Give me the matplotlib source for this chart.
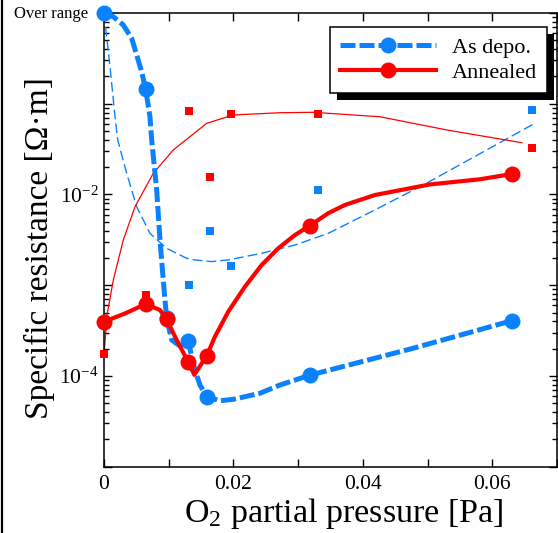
import matplotlib
matplotlib.use('Agg')
import matplotlib.pyplot as plt
from matplotlib.lines import Line2D
from matplotlib.patches import Rectangle
from matplotlib.transforms import IdentityTransform
from matplotlib.ticker import MultipleLocator, FuncFormatter, LogLocator, NullFormatter, FixedLocator
import numpy as np

plt.rcParams['font.family'] = ['Liberation Serif', 'DejaVu Serif']
plt.rcParams['mathtext.fontset'] = 'custom'
plt.rcParams['mathtext.rm'] = 'Liberation Serif'
plt.rcParams['mathtext.it'] = 'Liberation Serif:italic'

BLUE = '#0a82ff'
RED = '#ff0000'

# measured resistance vs O2 partial pressure (Pa, ohm*m)
depo_p = [0.0, 0.0065, 0.0097, 0.0130, 0.0159, 0.0318, 0.0630]
depo_r = [1.0, 0.144, 4.3e-4, 2.4e-4, 5.9e-5, 1.02e-4, 4.06e-4]
anneal_p = [0.0, 0.0065, 0.0097, 0.0130, 0.0159, 0.0318, 0.0630]
anneal_r = [3.96e-4, 6.2e-4, 4.2e-4, 1.42e-4, 1.66e-4, 4.5e-3, 1.68e-2]

# second sample set (small squares)
sq_red_p = [0.0, 0.0065, 0.0132, 0.0164, 0.0197, 0.0330, 0.0661]
sq_red_r = [1.75e-4, 7.8e-4, 0.0832, 0.0156, 0.0765, 0.0765, 0.0323]
sq_blue_p = [0.0132, 0.0164, 0.0196, 0.0330, 0.0661]
sq_blue_r = [1.0e-3, 3.96e-3, 1.64e-3, 0.0111, 0.0847]

# smoothed guide curves through the circles
depo_curve_p = [0.0, 0.00144, 0.00298, 0.00428, 0.00505, 0.00582, 0.00644, 0.0071, 0.00737,
                0.00814, 0.00865, 0.00916, 0.00942, 0.00968, 0.01046, 0.01174, 0.01302,
                0.01405, 0.01483, 0.01586, 0.01792, 0.01997, 0.02409, 0.02718, 0.03181,
                0.04777, 0.0630]
depo_curve_r = [1.0, 0.910, 0.738, 0.526, 0.344, 0.225, 0.144, 0.0719, 0.0398,
                0.0112, 3.15e-3, 1.14e-3, 6.87e-4, 4.32e-4, 2.49e-4, 2.14e-4, 2.39e-4,
                1.16e-4, 7.94e-5, 5.9e-5, 5.33e-5, 5.53e-5, 6.44e-5, 7.94e-5, 1.02e-4,
                2.02e-4, 4.06e-4]
anneal_curve_p = [0.0, 0.00324, 0.00644, 0.00865, 0.00968, 0.01123, 0.01302, 0.01395,
                  0.01586, 0.01714, 0.0192, 0.02178, 0.02436, 0.02692, 0.0295, 0.03181,
                  0.03464, 0.03722, 0.04185, 0.05035, 0.05807, 0.0630]
anneal_curve_r = [3.96e-4, 4.88e-4, 6.21e-4, 5.33e-4, 4.21e-4, 2.49e-4, 1.42e-4, 1.03e-4,
                  1.66e-4, 2.71e-4, 5.11e-4, 9.64e-4, 1.67e-3, 2.55e-3, 3.57e-3, 4.53e-3,
                  6.21e-3, 7.66e-3, 9.86e-3, 1.29e-2, 1.47e-2, 1.68e-2]

# fitted trends for the square samples
fit_blue_p = [0.0, 0.00093, 0.0017, 0.00212, 0.00351, 0.00505, 0.0071, 0.00968, 0.01277,
              0.01405, 0.01663, 0.0192, 0.02436, 0.02744, 0.0295, 0.03464, 0.04185,
              0.04931, 0.05807, 0.06656]
fit_blue_r = [1.0, 0.256, 0.0719, 0.0398, 0.0171, 7.33e-3, 3.73e-3, 2.55e-3, 1.98e-3,
              1.90e-3, 1.82e-3, 1.90e-3, 2.25e-3, 2.55e-3, 2.77e-3, 3.73e-3, 6.75e-3,
              1.27e-2, 2.81e-2, 6.08e-2]
fit_red_p = [0.0, 0.00051, 0.00144, 0.00298, 0.00479, 0.00761, 0.0107, 0.01586, 0.01997,
             0.02718, 0.03228, 0.04263, 0.05297, 0.06456]
fit_red_r = [1.75e-4, 4.91e-4, 1.14e-3, 3.15e-3, 7.33e-3, 0.0171, 0.0309, 0.0608, 0.0752,
             0.0796, 0.0805, 0.0719, 0.0514, 0.0372]

x_ticks = [0.0, 0.02, 0.04, 0.06]
y_labelled = [1e-2, 1e-4]

W, H = 558, 533
fig = plt.figure(figsize=(W / 100, H / 100), dpi=100)
ax = fig.add_axes([104 / W, (H - 466.7) / H, 453 / W, 453.7 / H])

# thin trend lines
ax.plot(fit_blue_p, fit_blue_r, color=BLUE, lw=1.0, dashes=(7, 3), zorder=2)
ax.plot(fit_red_p, fit_red_r, color=RED, lw=0.9, zorder=2)

ax.plot(sq_blue_p, sq_blue_r, 's', color=BLUE, ms=5.3, mew=0, zorder=3, clip_on=False)
ax.plot(sq_red_p, sq_red_r, 's', color=RED, ms=5.3, mew=0, zorder=3, clip_on=False)

# main series
ax.plot(depo_curve_p, depo_curve_r, color=BLUE, lw=3.6, dashes=(3.0, 0.8), zorder=4)
ax.plot(depo_p, depo_r, 'o', color=BLUE, ms=11.5, mew=0, zorder=4, clip_on=False)
ax.plot(anneal_curve_p, anneal_curve_r, color=RED, lw=3.0, zorder=5)
ax.plot(anneal_p, anneal_r, 'o', color=RED, ms=11.5, mew=0, zorder=5, clip_on=False)

ax.set_yscale('log')
ax.set_xlim(0, 0.07)
ax.set_ylim(1e-5, 1.0)

ax.xaxis.set_major_locator(MultipleLocator(0.01))
ax.xaxis.set_major_formatter(FuncFormatter(
    lambda v, pos: ('0' if abs(v) < 1e-9 else f'{v:.2f}')
    if any(abs(v - t) < 1e-9 for t in x_ticks) else ''))
ax.yaxis.set_major_locator(FixedLocator([1e-5, 1e-4, 1e-3, 1e-2, 1e-1, 1.0]))
ax.yaxis.set_minor_locator(LogLocator(base=10, subs=np.arange(2, 10)))
ax.yaxis.set_minor_formatter(NullFormatter())
ax.yaxis.set_major_formatter(FuncFormatter(
    lambda v, pos: f'$10^{{{int(round(np.log10(v)))}}}$'
    if any(abs(v - t) / t < 1e-6 for t in y_labelled) else ''))

ax.tick_params(which='both', direction='in', top=True, right=True, width=1.0,
               labelsize=15.5, colors='black')
ax.tick_params(which='major', length=5.5)
ax.tick_params(which='minor', length=3.5)
ax.tick_params(axis='x', pad=6)
ax.tick_params(axis='y', pad=4)
for s in ax.spines.values():
    s.set_linewidth(1.1)

ax.text(-0.035, 0.997, 'Over range', transform=ax.transAxes, ha='right', va='center',
        fontsize=12)

ax.set_xlabel('O$_2$ partial pressure [Pa]', fontsize=24.5)
ax.set_ylabel('Specific resistance [Ω·m]', fontsize=24)
ax.xaxis.set_label_coords(0.528, -0.064)
ax.yaxis.set_label_coords(-0.108, 0.482)

handles = [
    Line2D([], [], color=BLUE, lw=3.6, dashes=(3.0, 0.8), marker='o', ms=11.5, mew=0),
    Line2D([], [], color=RED, lw=3.0, marker='o', ms=11.5, mew=0),
]
leg = ax.legend(handles, ['As depo.', 'Annealed'], loc='upper right',
                bbox_to_anchor=(0.978, 0.969), borderaxespad=0, fontsize=16,
                handlelength=4.35, handletextpad=0.7, labelspacing=0.2,
                borderpad=0.45, fancybox=False, framealpha=1, edgecolor='black')
leg.get_frame().set_linewidth(1.1)
leg.set_zorder(10)

# hard black drop shadow behind the legend box
fig.canvas.draw()
bb = leg.get_window_extent()
shadow = Rectangle((bb.x0 + 7, bb.y0 - 7), bb.width, bb.height, transform=IdentityTransform(),
                   facecolor='black', edgecolor='none', zorder=9.5)
ax.add_artist(shadow)

# left border of the figure panel
fig.add_artist(Line2D([2 / W, 2 / W], [0, 1], color='black', lw=1.6))

fig.savefig('out.png', dpi=100)
